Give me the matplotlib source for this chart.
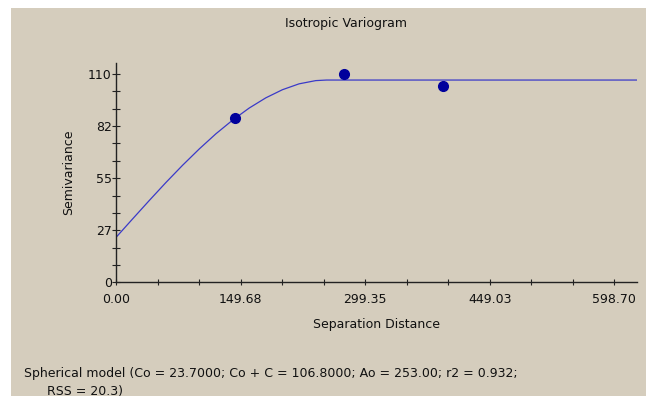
import matplotlib.pyplot as plt
from matplotlib.patches import Rectangle
from matplotlib.ticker import MultipleLocator, FixedLocator

plt.rcParams['font.family'] = ['DejaVu Sans']

# fitted spherical model
model_x = [0, 20, 40, 60, 80, 100, 120, 140, 160, 180, 200, 220, 240, 253, 626]
model_y = [23.7, 33.5, 43.2, 52.7, 61.8, 70.4, 78.4, 85.6, 92.0, 97.4, 101.7, 104.8, 106.5, 106.8, 106.8]

# experimental variogram points
lag_x = [143, 273.6, 392.7]
lag_y = [86.6, 110.0, 103.8]

x_ticks = [0.00, 149.68, 299.35, 449.03, 598.70]
y_ticks = [0, 27.5, 55, 82.5, 110]
y_labels = ['0', '27', '55', '82', '110']

bg = '#d5cdbd'
W, H = 646, 396

fig = plt.figure(figsize=(W / 100, H / 100), dpi=100, facecolor='white')
fig.patches.append(Rectangle((11 / W, 0), 1, 1 - 8 / H, transform=fig.transFigure,
                             facecolor=bg, edgecolor='none', zorder=-1))

ax = fig.add_axes([116 / W, 1 - 282.3 / H, (637 - 116) / W, (282.3 - 63) / H])
ax.set_facecolor(bg)
ax.patch.set_alpha(0)

ax.plot(model_x, model_y, color='#3a3ac8', lw=0.9)
ax.plot(lag_x, lag_y, 'o', color='#00009c', ms=7, mec='#00009c')

ax.set_xlim(0, 626)
ax.set_ylim(0, 115.8)

ax.xaxis.set_major_locator(FixedLocator(x_ticks))
ax.set_xticklabels(['%.2f' % v for v in x_ticks])
ax.xaxis.set_minor_locator(MultipleLocator(598.70 / 12))
ax.yaxis.set_major_locator(FixedLocator(y_ticks))
ax.set_yticklabels(y_labels)
ax.yaxis.set_minor_locator(MultipleLocator(110 / 12))

for s in ['top', 'right']:
    ax.spines[s].set_visible(False)
for s in ['left', 'bottom']:
    ax.spines[s].set_color('#222222')
    ax.spines[s].set_linewidth(1.0)

ax.tick_params(which='both', direction='inout', width=0.8, color='#222222',
               labelsize=9, labelcolor='#111111')
ax.tick_params(axis='x', which='both', length=4, pad=6)
ax.tick_params(axis='y', which='both', length=6, pad=0)

ax.set_xlabel('Separation Distance', fontsize=9, color='#111111', labelpad=8)
ax.set_ylabel('Semivariance', fontsize=9, color='#111111', labelpad=9)

fig.text(346 / W, 1 - 24 / H, 'Isotropic Variogram', ha='center', va='center',
         fontsize=9, color='#111111')
fig.text(24 / W, 1 - 374 / H,
         'Spherical model (Co = 23.7000; Co + C = 106.8000; Ao = 253.00; r2 = 0.932;',
         ha='left', va='center', fontsize=9, color='#111111')
fig.text(47 / W, 1 - 391 / H, 'RSS = 20.3)', ha='left', va='center',
         fontsize=9, color='#111111')

fig.savefig('out.png', dpi=100, facecolor='white')
